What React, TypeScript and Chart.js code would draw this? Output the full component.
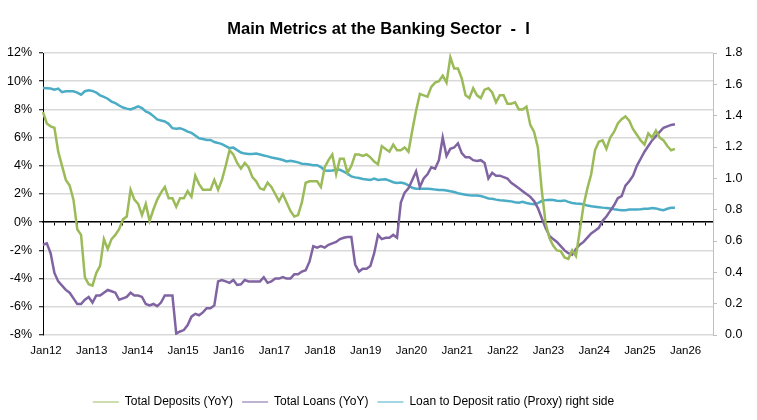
import { useEffect, useRef } from 'react';
import { Chart, registerables } from 'chart.js';

Chart.register(...registerables);

const FONT = "'Liberation Sans Narrow', 'Arial Narrow', 'Liberation Sans', Arial, sans-serif";

const TITLE = 'Main Metrics at the Banking Sector  -  I';
const YEARS = ['12', '13', '14', '15', '16', '17', '18', '19', '20', '21', '22', '23', '24', '25', '26'];
const MONTHS = ['Jan', 'Feb', 'Mar', 'Apr', 'May', 'Jun', 'Jul', 'Aug', 'Sep', 'Oct', 'Nov', 'Dec'];
const AXIS_MONTHS = 177; // Jan12 .. Sep26 on the category axis
const categories: string[] = YEARS.flatMap((y) => MONTHS.map((m) => m + y)).slice(0, AXIS_MONTHS);

const SERIES_NAMES = ['Total Deposits (YoY)', 'Total Loans (YoY)', 'Loan to Deposit ratio (Proxy) right side'];

// Total Deposits YoY (%), monthly Jan 2012 .. Nov 2025
const deposits = [
  7.8, 7.0, 6.8, 6.7, 5.0, 4.0, 3.0, 2.6, 1.6, -0.5, -0.9, -3.9,
  -4.4, -4.5, -3.6, -3.1, -1.2, -1.9, -1.2, -0.9, -0.5, 0.2, 0.4, 2.3,
  1.6, 1.3, 0.5, 1.3, 0.1, 0.9, 1.6, 2.1, 2.5, 1.7, 1.7, 1.1,
  1.7, 1.7, 2.2, 1.8, 3.3, 2.7, 2.3, 2.3, 2.3, 3.0, 2.3, 3.0,
  4.0, 5.1, 4.8, 4.2, 3.8, 4.2, 3.9, 3.2, 2.9, 2.4, 2.3, 2.8,
  2.5, 2.0, 1.5, 2.0, 1.4, 0.8, 0.4, 0.5, 1.4, 2.8, 2.9, 2.9,
  2.9, 2.5, 3.9, 4.4, 4.8, 3.4, 4.5, 4.5, 3.5, 4.0, 4.8, 4.8,
  4.7, 4.8, 4.6, 4.3, 4.1, 5.4, 5.2, 5.0, 5.5, 5.1, 5.1, 5.3,
  5.0, 6.5, 7.9, 9.1, 9.0, 8.9, 9.6, 9.9, 10.0, 10.4, 9.9, 11.7,
  10.9, 10.9, 10.2, 9.0, 8.8, 9.5, 9.0, 8.8, 9.4, 9.5, 9.2, 8.5,
  9.0, 9.0, 8.4, 8.4, 8.5, 8.0, 8.0, 8.2, 6.9, 6.4, 5.3, 2.3,
  0.0, -1.1, -1.65, -2.0, -2.05, -2.5, -2.6, -2.0, -2.4, -0.6, 1.2, 2.4,
  3.4, 5.1, 5.7, 5.8, 5.2, 6.0, 6.4, 7.0, 7.3, 7.5, 7.2, 6.6,
  6.2, 5.8, 5.5, 6.3, 6.0, 6.5, 6.0, 5.8, 5.4, 5.1, 5.2,
];

// Total Loans YoY (%)
const loans = [
  -1.6, -1.5, -2.2, -3.6, -4.2, -4.5, -4.8, -5.0, -5.4, -5.8, -5.8, -5.5,
  -5.3, -5.7, -5.2, -5.2, -5.0, -4.8, -4.9, -5.0, -5.5, -5.4, -5.3, -5.0,
  -5.2, -5.2, -5.3, -5.8, -5.9, -5.8, -5.95, -5.7, -5.2, -5.2, -5.2, -7.9,
  -7.75, -7.65, -7.3, -6.7, -6.5, -6.6, -6.4, -6.1, -6.1, -5.9, -4.2, -4.1,
  -4.2, -4.3, -4.1, -4.45, -4.4, -4.1, -4.2, -4.2, -4.2, -4.2, -3.9, -4.3,
  -4.2, -4.0, -4.0, -3.9, -4.0, -4.0, -3.7, -3.7, -3.5, -3.4, -2.8, -1.7,
  -1.8, -1.7, -1.8, -1.6, -1.5, -1.4, -1.2, -1.1, -1.05, -1.05, -3.0, -3.5,
  -3.3, -3.3, -3.1, -2.2, -0.9, -1.2, -1.1, -1.1, -0.9, -1.1, 1.4, 2.1,
  2.4, 3.0, 3.6, 2.5, 3.1, 3.4, 3.9, 3.8, 4.4, 6.0, 4.7, 5.2,
  5.3, 5.6, 4.9, 4.6, 4.6, 4.4, 4.35, 4.4, 4.2, 3.1, 3.5, 3.3,
  3.3, 3.2, 3.1, 2.8, 2.6, 2.4, 2.2, 2.0, 1.8, 1.5, 1.0, 0.3,
  -0.4, -0.95, -1.2, -1.4, -1.7, -2.0, -2.2, -2.3, -1.9, -1.6, -1.4, -1.1,
  -0.8, -0.6, -0.4, 0.1, 0.4, 0.8, 1.2, 1.7, 1.85, 2.6, 2.9, 3.3,
  4.0, 4.5, 5.0, 5.4, 5.8, 6.1, 6.4, 6.7, 6.8, 6.9, 6.95,
];

// Loan to Deposit ratio (Proxy), right axis
const ldRatio = [
  1.577, 1.575, 1.573, 1.566, 1.573, 1.55, 1.556, 1.556, 1.556, 1.547, 1.534, 1.556,
  1.562, 1.558, 1.548, 1.53, 1.52, 1.508, 1.49, 1.48, 1.465, 1.452, 1.445, 1.44,
  1.449, 1.459, 1.449, 1.427, 1.416, 1.397, 1.376, 1.369, 1.363, 1.348, 1.32, 1.316,
  1.32, 1.311, 1.298, 1.29, 1.273, 1.256, 1.251, 1.245, 1.245, 1.232, 1.226, 1.218,
  1.205, 1.193, 1.196, 1.18, 1.165, 1.158, 1.155, 1.155, 1.158, 1.152, 1.146, 1.14,
  1.133, 1.128, 1.123, 1.117, 1.108, 1.112, 1.108, 1.102, 1.093, 1.091, 1.088, 1.084,
  1.084, 1.072, 1.05, 1.048, 1.05, 1.054, 1.054, 1.043, 1.03, 1.012, 1.006, 1.002,
  0.996, 0.993, 0.99, 0.998, 0.99, 0.992, 0.994, 0.985, 0.975, 0.97, 0.973, 0.967,
  0.955, 0.94, 0.934, 0.934, 0.934, 0.934, 0.932, 0.928, 0.926, 0.926, 0.922, 0.917,
  0.913, 0.905, 0.9, 0.895, 0.892, 0.891, 0.891, 0.887, 0.88, 0.871, 0.87, 0.864,
  0.86, 0.859, 0.856, 0.853, 0.848, 0.844, 0.85, 0.843, 0.838, 0.835, 0.842, 0.855,
  0.861, 0.864, 0.862, 0.857, 0.855, 0.859, 0.85, 0.843, 0.84, 0.838, 0.834, 0.826,
  0.822, 0.819, 0.816, 0.813, 0.811, 0.808, 0.803, 0.799, 0.796, 0.797, 0.801, 0.801,
  0.801, 0.803, 0.806, 0.806, 0.81, 0.808, 0.801, 0.797, 0.806, 0.812, 0.812,
];

const LEFT_TICKS = { min: -8, max: 12, step: 2 };
const RIGHT_TICKS = { min: 0, max: 1.8, step: 0.2 };

const GREEN = '#9BBB59';
const PURPLE = '#8064A2';
const AQUA = '#4BACC6';
const GRID = '#d9d9d9';
const LEGEND_SHIFT = -25;

export default function App() {
  const ref = useRef<HTMLCanvasElement | null>(null);

  useEffect(() => {
    document.body.style.margin = '0';
    if (!ref.current) return;
    const legendShift = {
      id: 'legendShift',
      afterLayout(chart: any) {
        const l = chart.legend;
        if (l) {
          l.left += LEGEND_SHIFT;
          l.right += LEGEND_SHIFT;
        }
      },
    };
    const chart = new Chart(ref.current, {
      type: 'line',
      data: {
        labels: categories,
        datasets: [
          { label: SERIES_NAMES[0], data: deposits, borderColor: GREEN, backgroundColor: GREEN, yAxisID: 'y', xAxisID: 'x' },
          { label: SERIES_NAMES[1], data: loans, borderColor: PURPLE, backgroundColor: PURPLE, yAxisID: 'y', xAxisID: 'x' },
          { label: SERIES_NAMES[2], data: ldRatio, borderColor: AQUA, backgroundColor: AQUA, yAxisID: 'y1', xAxisID: 'x' },
        ],
      },
      options: {
        responsive: false,
        animation: false,
        events: [],
        layout: { padding: { top: 0, bottom: 2, left: 0, right: 0 } },
        elements: {
          line: { borderWidth: 2.5, tension: 0, fill: false },
          point: { radius: 0, hoverRadius: 0 },
        },
        plugins: {
          title: {
            display: true,
            text: TITLE,
            color: '#000',
            font: { family: FONT, size: 16.5, weight: 'bold' },
            padding: { top: 20, bottom: 13.2 },
          },
          legend: {
            display: true,
            position: 'bottom',
            labels: {
              usePointStyle: true,
              pointStyle: 'line',
              pointStyleWidth: 26,
              boxHeight: 12,
              padding: 9,
              color: '#000',
              font: { family: FONT, size: 12 },
            },
          },
          tooltip: { enabled: false },
        },
        scales: {
          x: {
            type: 'category',
            position: 'bottom',
            offset: false,
            grid: { display: false, drawTicks: false },
            border: { display: false },
            ticks: {
              autoSkip: false,
              maxRotation: 0,
              minRotation: 0,
              padding: 9,
              labelOffset: 3,
              color: '#000',
              font: { family: FONT, size: 11.5 },
              callback: (_v: any, i: number) => (categories[i] && categories[i].startsWith('Jan') ? categories[i] : ''),
            },
            afterFit: (s: any) => {
              s.height = 52;
            },
          },
          x2: {
            type: 'category',
            position: { y: 0 },
            offset: false,
            ticks: { display: false },
            grid: {
              drawOnChartArea: false,
              drawTicks: true,
              tickLength: 3,
              tickWidth: 1,
              tickColor: (ctx: any) => (ctx.index % 3 === 0 ? '#000' : 'rgba(0,0,0,0)'),
            },
            border: { display: true, color: '#000', width: 1.5 },
            afterFit: (s: any) => {
              s.height = 0;
            },
          },
          y: {
            type: 'linear',
            position: 'left',
            min: LEFT_TICKS.min,
            max: LEFT_TICKS.max,
            ticks: {
              stepSize: LEFT_TICKS.step,
              padding: 7,
              color: '#000',
              font: { family: FONT, size: 12.5 },
              callback: (v: any) => `${v}%`,
            },
            grid: { color: GRID, lineWidth: 1.5, tickColor: '#000', tickLength: 4, tickWidth: 1 },
            border: { display: true, color: '#000', width: 1 },
            afterFit: (s: any) => {
              s.width = 43;
            },
          },
          y1: {
            type: 'linear',
            position: 'right',
            min: RIGHT_TICKS.min,
            max: RIGHT_TICKS.max,
            ticks: {
              stepSize: RIGHT_TICKS.step,
              padding: 8,
              color: '#000',
              font: { family: FONT, size: 12.5 },
              callback: (v: any) => Number(v).toFixed(1),
            },
            grid: { drawOnChartArea: false, tickColor: '#bfbfbf', tickLength: 4, tickWidth: 1 },
            border: { display: true, color: '#bfbfbf', width: 1 },
            afterFit: (s: any) => {
              s.width = 44;
            },
          },
        },
      } as any,
      plugins: [legendShift],
    });
    return () => chart.destroy();
  }, []);

  return (
    <div style={{ width: 757, height: 420, position: 'relative' }}>
      <canvas ref={ref} width={757} height={420} style={{ display: 'block' }} />
    </div>
  );
}
